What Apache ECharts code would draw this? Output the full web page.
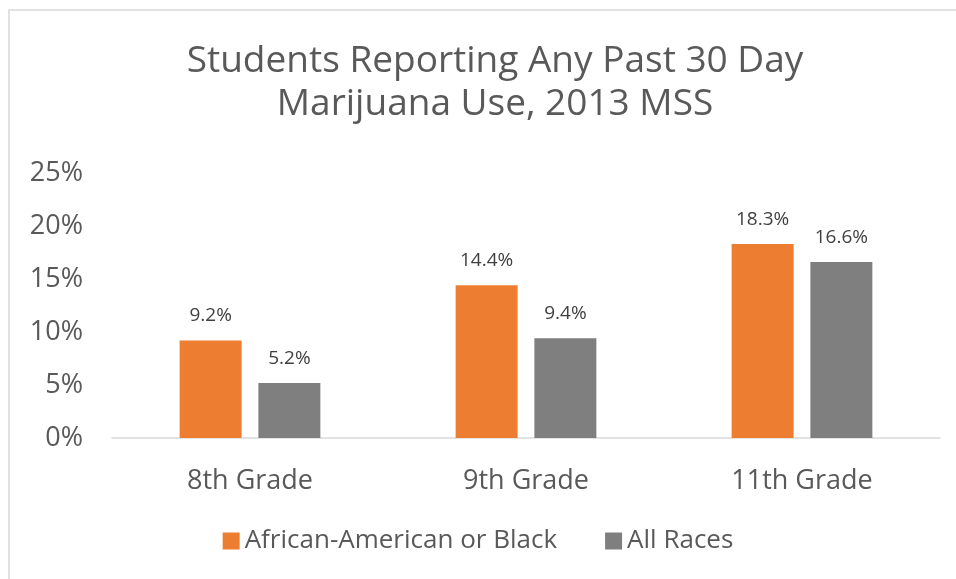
<!DOCTYPE html>
<html>
<head>
<meta charset="utf-8">
<script src="https://cdn.jsdelivr.net/npm/echarts@6/dist/echarts.min.js"></script>
<style>
  html, body { margin: 0; padding: 0; background: #fff; }
  #chart { width: 956px; height: 579px; }
</style>
</head>
<body>
<div id="chart"></div>
<script>
// data
var grades = ["8th Grade", "9th Grade", "11th Grade"];
var blackValues = [9.2, 14.4, 18.3];
var allRacesValues = [5.2, 9.4, 16.6];
var seriesNames = ["African-American or Black", "All Races"];

var FONT = "'Open Sans', 'Noto Sans', sans-serif";
var chart = echarts.init(document.getElementById("chart"));

var labelStyle = {
  show: true,
  position: "top",
  distance: 15,
  color: "#404040",
  fontSize: 19,
  fontFamily: FONT,
  formatter: function (p) { return p.value.toFixed(1) + "%"; }
};

var option = {
  animation: false,
  title: {
    text: "Students Reporting Any Past 30 Day\nMarijuana Use, 2013 MSS",
    left: 490,
    textAlign: "center",
    top: 35,
    textStyle: {
      color: "#595959",
      fontSize: 37,
      fontWeight: "normal",
      fontFamily: FONT,
      lineHeight: 43
    }
  },
  graphic: [{
    type: "rect",
    shape: { x: 9, y: 10, width: 1000, height: 1000 },
    style: { fill: "none", stroke: "#d9d9d9", lineWidth: 1.5 },
    silent: true
  }],
  legend: {
    data: seriesNames,
    bottom: 20,
    left: "center",
    itemWidth: 17,
    itemHeight: 17,
    itemGap: 48,
    icon: "rect",
    textStyle: { color: "#595959", fontSize: 26, fontFamily: FONT }
  },
  grid: { left: 112, right: 16, top: 173, bottom: 141, containLabel: false },
  xAxis: {
    type: "category",
    data: grades,
    axisLine: { lineStyle: { color: "#d9d9d9", width: 1.5 } },
    axisTick: { show: false },
    axisLabel: { color: "#595959", fontSize: 27, fontFamily: FONT, margin: 30 }
  },
  yAxis: {
    type: "value",
    min: 0,
    max: 25,
    interval: 5,
    splitLine: { show: false },
    axisLine: { show: false },
    axisTick: { show: false },
    axisLabel: {
      color: "#595959",
      fontSize: 27,
      fontFamily: FONT,
      margin: 29,
      formatter: "{value}%"
    }
  },
  series: [
    {
      name: seriesNames[0],
      type: "bar",
      data: blackValues,
      barWidth: 62,
      barGap: "27%",
      itemStyle: { color: "#ed7d31" },
      label: labelStyle
    },
    {
      name: seriesNames[1],
      type: "bar",
      data: allRacesValues,
      barWidth: 62,
      barGap: "27%",
      itemStyle: { color: "#7f7f7f" },
      label: labelStyle
    }
  ]
};

chart.setOption(option);
</script>
</body>
</html>
